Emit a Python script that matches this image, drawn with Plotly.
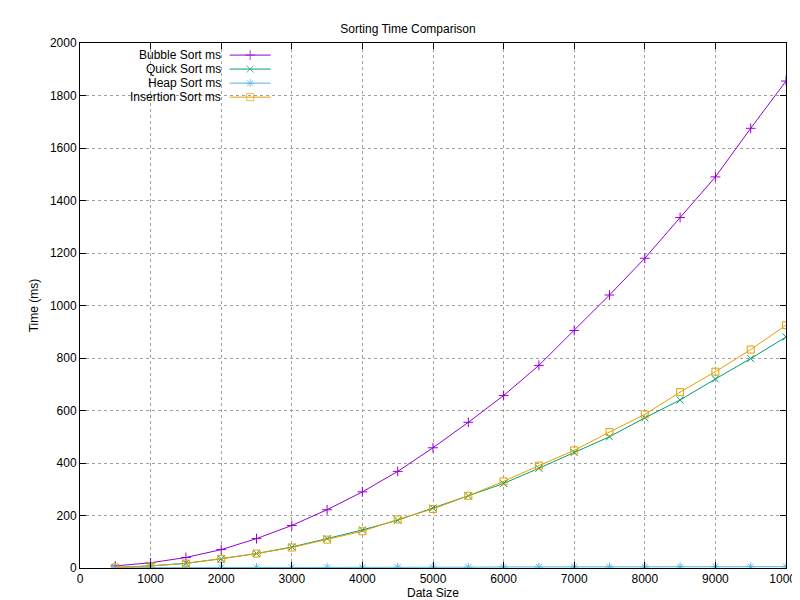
import plotly.graph_objs as go

sizes = list(range(500, 10001, 500))
bubble = [8, 20, 40, 70, 112, 162, 222, 290, 368, 458, 555, 657, 772, 905, 1040, 1180, 1335, 1490, 1675, 1855]
quick = [2, 8, 18, 35, 55, 80, 112, 145, 182, 228, 275, 322, 380, 440, 500, 572, 640, 720, 798, 880]
heap = [1, 1, 1, 2, 2, 2, 2, 3, 3, 3, 3, 4, 4, 4, 4, 4, 5, 5, 5, 5]
insertion = [2, 8, 17, 35, 55, 78, 108, 140, 185, 225, 275, 330, 390, 448, 518, 585, 670, 748, 832, 925]

names = ["Bubble Sort ms", "Quick Sort ms", "Heap Sort ms", "Insertion Sort ms"]
series = [bubble, quick, heap, insertion]
colors = ["#9400d3", "#009e73", "#56b4e9", "#e69f00"]
symbols = ["cross-thin", "x-thin", "asterisk", "square-open"]

fig = go.Figure()
for i in range(len(series)):
    fig.add_trace(go.Scatter(x=sizes, y=series[i], mode="lines+markers", name=names[i],
                             line=dict(color=colors[i], width=1),
                             marker=dict(symbol=symbols[i], size=7, color=colors[i],
                                         line=dict(color=colors[i], width=1))))

# legend drawn gnuplot-style: text right-aligned, sample on the right
for i in range(len(names)):
    yy = 0.977 - i * 0.0267
    fig.add_trace(go.Scatter(x=[0.212, 0.241, 0.27], y=[yy, yy, yy], xaxis="x2", yaxis="y2",
                             mode="lines+markers", line=dict(color=colors[i], width=1),
                             marker=dict(symbol=symbols[i], size=[0, 7, 0], color=colors[i],
                                         line=dict(color=colors[i], width=1)),
                             showlegend=False, hoverinfo="skip"))
    fig.add_annotation(x=0.203, y=yy, xref="x2", yref="y2", text=names[i], showarrow=False,
                       xanchor="right", font=dict(size=12, color="black"))

grid = dict(showgrid=True, gridcolor="#a0a0a0", griddash="dot", gridwidth=1,
            showline=True, linecolor="black", mirror="ticks", ticks="inside",
            ticklen=6, tickcolor="black", zeroline=False, automargin=False,
            tickformat="d", tickfont=dict(size=12))
fig.update_layout(
    width=800, height=600, plot_bgcolor="white", paper_bgcolor="white",
    font=dict(family="Liberation Sans, Arial", size=12, color="black"),
    margin=dict(l=72, r=22, t=35, b=40, autoexpand=False), showlegend=False,
    title=dict(text="Sorting Time Comparison", x=0.5, y=0.972, font=dict(size=12)),
    xaxis=dict(range=[0, 10000], dtick=1000,
               title=dict(text="Data Size", standoff=2, font=dict(size=12)), **grid),
    yaxis=dict(range=[0, 2000], dtick=200,
               title=dict(text="Time (ms)", standoff=8, font=dict(size=12)), **grid),
    xaxis2=dict(range=[0, 1], overlaying="x", visible=False, fixedrange=True),
    yaxis2=dict(range=[0, 1], overlaying="y", visible=False, fixedrange=True),
)
fig.write_html("out.html")
